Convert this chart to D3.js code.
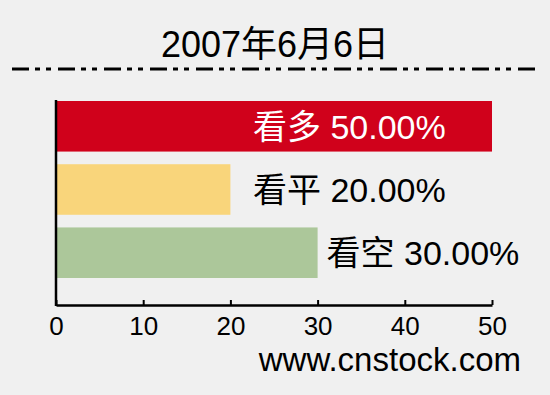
<!DOCTYPE html>
<html>
<head>
<meta charset="utf-8">
<script src="https://cdn.jsdelivr.net/npm/d3@7"></script>
<style>
  body { margin: 0; background: #f0f0f0; }
  svg { display: block; }
  text { font-family: "Liberation Sans", Arial, "Noto Sans CJK SC", sans-serif; }
</style>
</head>
<body>
<div id="chart"></div>
<script>
// chart data
var title = "2007年6月6日";
var categories = ["看多", "看平", "看空"];
var values = [50, 20, 30];
var colors = ["#d0011b", "#f9d57b", "#acc79a"];
var tickValues = [0, 10, 20, 30, 40, 50];
var source = "www.cnstock.com";

var width = 550, height = 395;

var svg = d3.select("#chart").append("svg")
	.attr("width", width)
	.attr("height", height);

svg.append("rect")
	.attr("width", width)
	.attr("height", height)
	.attr("fill", "#f0f0f0");

//title and dash-dot rule
svg.append("text")
	.attr("x", 275)
	.attr("y", 57)
	.attr("text-anchor", "middle")
	.style("font-size", "36px")
	.attr("fill", "#000")
	.text(title);

svg.append("line")
	.attr("x1", 12).attr("x2", 541)
	.attr("y1", 69).attr("y2", 69)
	.attr("stroke", "#000")
	.attr("stroke-width", 3)
	.attr("stroke-dasharray", "17,6,5,6,5,7");

//scales
var x = d3.scaleLinear().domain([0, 50]).range([56, 492]);
var y = d3.scaleBand().domain(categories).range([101, 278]).paddingInner(0.2);
var axisY = 305;

//bars
svg.append("g").selectAll("rect")
	.data(values)
	.enter().append("rect")
	.attr("x", x(0))
	.attr("y", function(d, i) { return y(categories[i]); })
	.attr("width", function(d) { return x(d) - x(0); })
	.attr("height", y.bandwidth())
	.attr("fill", function(d, i) { return colors[i]; });

//labels: start after the bar, but not left of labelMinX; inside the bar if it doesn't fit
var labelMinX = 253;
svg.append("g").selectAll("text")
	.data(values)
	.enter().append("text")
	.attr("y", function(d, i) { return y(categories[i]) + y.bandwidth() / 2; })
	.attr("dy", "0.36em")
	.style("font-size", "34px")
	.text(function(d, i) { return categories[i] + " " + d.toFixed(2) + "%"; })
	.each(function(d) {
		var w = this.getComputedTextLength();
		var sx = Math.max(x(d) + 9, labelMinX);
		var inside = sx + w > width;
		d3.select(this)
			.attr("x", inside ? labelMinX : sx)
			.attr("fill", inside ? "#fff" : "#000");
	});

//axes
var xAxis = d3.axisBottom(x)
	.tickValues(tickValues)
	.tickSizeInner(-5)
	.tickSizeOuter(0)
	.tickPadding(12);

var gx = svg.append("g")
	.attr("transform", "translate(0," + axisY + ")")
	.attr("font-family", null)
	.call(xAxis);
gx.select(".domain").attr("stroke-width", 2.5);
gx.selectAll(".tick line").attr("stroke-width", 2);
gx.selectAll(".tick text")
	.style("font-size", "26px")
	.attr("fill", "#000");

svg.append("line")
	.attr("x1", x(0)).attr("x2", x(0))
	.attr("y1", 100).attr("y2", axisY + 1)
	.attr("stroke", "#000")
	.attr("stroke-width", 2.5);

//source
svg.append("text")
	.attr("x", 521)
	.attr("y", 371)
	.attr("text-anchor", "end")
	.style("font-size", "33px")
	.attr("fill", "#000")
	.text(source);
</script>
</body>
</html>
